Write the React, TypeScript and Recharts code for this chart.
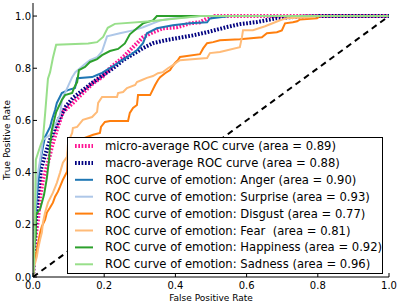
import React from 'react';
import { LineChart, Line, XAxis, YAxis, Legend } from 'recharts';

// ---- data ----
const xTicks = [0, 0.2, 0.4, 0.6, 0.8, 1.0];
const yTicks = [0, 0.2, 0.4, 0.6, 0.8, 1.0];

const microFpr = [0, 0.003, 0.008, 0.014, 0.02, 0.028, 0.042, 0.053, 0.067, 0.084, 0.112, 0.14, 0.169, 0.194, 0.216, 0.253, 0.281, 0.309, 0.337, 0.365, 0.404, 0.441, 0.469, 0.489, 0.511, 1];
const microTpr = [0, 0.087, 0.163, 0.22, 0.308, 0.373, 0.438, 0.499, 0.564, 0.632, 0.667, 0.705, 0.743, 0.766, 0.8, 0.842, 0.881, 0.919, 0.938, 0.953, 0.957, 0.972, 0.976, 0.991, 1.0, 1];

const macroFpr = [0, 0.003, 0.006, 0.011, 0.017, 0.022, 0.034, 0.048, 0.062, 0.076, 0.093, 0.112, 0.14, 0.169, 0.197, 0.225, 0.253, 0.281, 0.309, 0.337, 0.371, 0.404, 0.449, 0.489, 0.545, 0.581, 0.629, 0.685, 0.73, 0.806, 1];
const macroTpr = [0, 0.106, 0.182, 0.278, 0.354, 0.411, 0.468, 0.526, 0.571, 0.613, 0.655, 0.686, 0.716, 0.747, 0.774, 0.8, 0.831, 0.854, 0.877, 0.896, 0.907, 0.915, 0.926, 0.938, 0.958, 0.969, 0.977, 0.992, 0.996, 1.0, 1];

const angerFpr = [0, 0.003, 0.006, 0.011, 0.02, 0.028, 0.034, 0.048, 0.053, 0.062, 0.067, 0.081, 0.098, 0.118, 0.124, 0.166, 0.18, 0.194, 0.211, 0.225, 0.239, 0.264, 0.292, 0.309, 0.32, 0.348, 0.393, 0.441, 0.489, 0.497, 0.525, 0.553, 1];
const angerTpr = [0, 0.144, 0.22, 0.308, 0.438, 0.499, 0.537, 0.575, 0.602, 0.64, 0.667, 0.705, 0.716, 0.724, 0.762, 0.766, 0.774, 0.782, 0.797, 0.808, 0.82, 0.842, 0.869, 0.896, 0.934, 0.953, 0.965, 0.972, 0.976, 0.991, 0.995, 1.0, 1];

const surpriseFpr = [0, 0.003, 0.006, 0.011, 0.02, 0.028, 0.048, 0.062, 0.076, 0.081, 0.096, 0.11, 0.119, 0.132, 0.146, 0.16, 0.18, 0.194, 0.208, 0.244, 0.281, 0.309, 0.337, 0.357, 0.385, 0.47, 1];
const surpriseTpr = [0, 0.144, 0.247, 0.373, 0.449, 0.526, 0.545, 0.583, 0.621, 0.678, 0.724, 0.766, 0.785, 0.8, 0.816, 0.831, 0.842, 0.865, 0.922, 0.934, 0.945, 0.957, 0.972, 0.983, 0.99, 1.0, 1];

const disgustFpr = [0, 0.003, 0.006, 0.011, 0.02, 0.025, 0.034, 0.039, 0.048, 0.056, 0.062, 0.07, 0.076, 0.084, 0.096, 0.098, 0.104, 0.132, 0.169, 0.188, 0.191, 0.202, 0.216, 0.267, 0.272, 0.281, 0.292, 0.295, 0.329, 0.343, 0.351, 0.357, 0.371, 0.385, 0.39, 0.399, 0.407, 0.413, 0.469, 0.478, 0.489, 0.506, 0.525, 0.581, 0.643, 0.657, 0.685, 0.699, 0.708, 0.73, 0.742, 0.75, 0.798, 0.806, 1];
const disgustTpr = [0, 0.049, 0.075, 0.106, 0.171, 0.194, 0.22, 0.247, 0.266, 0.285, 0.308, 0.327, 0.346, 0.373, 0.404, 0.48, 0.507, 0.526, 0.545, 0.552, 0.575, 0.594, 0.598, 0.598, 0.629, 0.648, 0.659, 0.697, 0.697, 0.736, 0.755, 0.766, 0.781, 0.793, 0.804, 0.82, 0.831, 0.843, 0.854, 0.876, 0.896, 0.9, 0.907, 0.911, 0.919, 0.934, 0.938, 0.945, 0.972, 0.976, 0.98, 0.987, 0.991, 1.0, 1];

const fearFpr = [0, 0.003, 0.011, 0.014, 0.02, 0.025, 0.028, 0.034, 0.042, 0.056, 0.067, 0.076, 0.084, 0.096, 0.098, 0.104, 0.11, 0.112, 0.124, 0.14, 0.166, 0.18, 0.183, 0.194, 0.236, 0.239, 0.253, 0.264, 0.287, 0.292, 0.306, 0.32, 0.337, 0.351, 0.365, 0.379, 0.393, 0.404, 0.413, 0.489, 0.497, 0.525, 0.581, 0.587, 0.59, 0.618, 0.652, 0.694, 0.713, 0.792, 0.798, 1];
const fearTpr = [0, 0.038, 0.079, 0.106, 0.144, 0.171, 0.209, 0.247, 0.285, 0.323, 0.361, 0.4, 0.438, 0.461, 0.507, 0.533, 0.552, 0.571, 0.575, 0.602, 0.613, 0.633, 0.667, 0.69, 0.69, 0.705, 0.709, 0.724, 0.736, 0.747, 0.755, 0.763, 0.77, 0.781, 0.785, 0.8, 0.812, 0.823, 0.831, 0.839, 0.858, 0.862, 0.881, 0.919, 0.946, 0.946, 0.961, 0.984, 0.992, 0.996, 1.0, 1];

const happinessFpr = [0, 0.003, 0.008, 0.008, 0.02, 0.031, 0.039, 0.045, 0.048, 0.053, 0.065, 0.081, 0.09, 0.11, 0.115, 0.124, 0.129, 0.146, 0.16, 0.18, 0.194, 0.216, 0.239, 0.258, 0.272, 0.292, 0.309, 0.337, 0.348, 1];
const happinessTpr = [0, 0.106, 0.163, 0.24, 0.26, 0.315, 0.38, 0.45, 0.506, 0.564, 0.632, 0.678, 0.697, 0.705, 0.724, 0.747, 0.793, 0.805, 0.824, 0.835, 0.85, 0.866, 0.874, 0.895, 0.93, 0.953, 0.972, 0.983, 1.0, 1];

const sadnessFpr = [0, 0.003, 0.006, 0.008, 0.02, 0.028, 0.034, 0.039, 0.042, 0.048, 0.056, 0.065, 0.155, 0.18, 0.197, 0.21, 0.23, 0.33, 0.47, 1];
const sadnessTpr = [0, 0.046, 0.29, 0.45, 0.5, 0.53, 0.625, 0.71, 0.76, 0.785, 0.84, 0.89, 0.895, 0.9, 0.92, 0.955, 0.97, 0.98, 1.0, 1];

const chanceFpr = [0, 1];
const chanceTpr = [0, 1];

const seriesNames = [
  'micro-average ROC curve (area = 0.89)',
  'macro-average ROC curve (area = 0.88)',
  'ROC curve of emotion: Anger (area = 0.90)',
  'ROC curve of emotion: Surprise (area = 0.93)',
  'ROC curve of emotion: Disgust (area = 0.77)',
  'ROC curve of emotion: Fear  (area = 0.81)',
  'ROC curve of emotion: Happiness (area = 0.92)',
  'ROC curve of emotion: Sadness (area = 0.96)',
];
const seriesFpr = [microFpr, macroFpr, angerFpr, surpriseFpr, disgustFpr, fearFpr, happinessFpr, sadnessFpr];
const seriesTpr = [microTpr, macroTpr, angerTpr, surpriseTpr, disgustTpr, fearTpr, happinessTpr, sadnessTpr];

// ---- styles ----
const seriesStyle = [
  { color: '#ff1493', width: 4, dash: '1.7 1.6' },
  { color: '#000080', width: 4, dash: '1.7 1.6' },
  { color: '#1f77b4', width: 2, dash: undefined },
  { color: '#aec7e8', width: 2, dash: undefined },
  { color: '#ff7f0e', width: 2, dash: undefined },
  { color: '#ffbb78', width: 2, dash: undefined },
  { color: '#2ca02c', width: 2, dash: undefined },
  { color: '#98df8a', width: 2, dash: undefined },
];

const FONT = '"DejaVu Sans", "Bitstream Vera Sans", sans-serif';
const TICK_LEN = 4;

const zip = (xs: number[], ys: number[]) => xs.map((x, i) => ({ x, y: ys[i] }));
const fmt = (v: number) => v.toFixed(1);

const BottomTick = (p: any) => (
  <g>
    <line x1={p.x} y1={p.y} x2={p.x} y2={p.y - TICK_LEN} stroke="#000" strokeWidth={1} />
    <text x={p.x} y={p.y + 8} textAnchor="middle" dominantBaseline="central" fontSize={10} fontFamily={FONT} fill="#000">
      {fmt(p.payload.value)}
    </text>
  </g>
);
const LeftTick = (p: any) => (
  <g>
    <line x1={p.x} y1={p.y} x2={p.x + TICK_LEN} y2={p.y} stroke="#000" strokeWidth={1} />
    <text x={p.x - 2} y={p.y} textAnchor="end" dominantBaseline="central" fontSize={10} fontFamily={FONT} fill="#000">
      {fmt(p.payload.value)}
    </text>
  </g>
);
const TopTick = (p: any) => (
  <line x1={p.x} y1={p.y} x2={p.x} y2={p.y + TICK_LEN} stroke="#000" strokeWidth={1} />
);
const RightTick = (p: any) => (
  <line x1={p.x} y1={p.y} x2={p.x - TICK_LEN} y2={p.y} stroke="#000" strokeWidth={1} />
);

const LegendBox = () => {
  const W = 316;
  const H = 137;
  const first = 9;
  const pitch = 16.9;
  return (
    <svg width={W} height={H} style={{ display: 'block', overflow: 'visible' }}>
      <rect x={0.5} y={0.5} width={W - 1} height={H - 1} fill="#fff" stroke="#000" strokeWidth={1} />
      {seriesNames.map((name, i) => {
        const cy = first + i * pitch;
        const st = seriesStyle[i];
        return (
          <g key={name}>
            <line x1={8} x2={26} y1={cy} y2={cy} stroke={st.color} strokeWidth={st.width} strokeDasharray={st.dash} />
            <text x={38} y={cy} dominantBaseline="central" fontSize={11.6} fontFamily={FONT} fill="#000" style={{ whiteSpace: 'pre' }}>
              {name}
            </text>
          </g>
        );
      })}
    </svg>
  );
};

export default function App() {
  return (
    <div style={{ position: 'absolute', left: 0, top: 0, background: '#fff' }}>
      <LineChart width={398} height={305} margin={{ top: 3, right: 9, bottom: 0, left: 0 }}>
        <XAxis
          xAxisId="b"
          type="number"
          dataKey="x"
          domain={[0, 1]}
          ticks={xTicks}
          interval={0}
          height={28}
          tickSize={0}
          tickMargin={0}
          tickLine={false}
          axisLine={{ stroke: '#000', strokeWidth: 1 }}
          tick={<BottomTick />}
          allowDataOverflow
          label={{
            content: (props: any) => {
              const vb = props.viewBox;
              return (
                <text x={vb.x + vb.width / 2} y={298} textAnchor="middle" dominantBaseline="central" fontSize={9} fontFamily={FONT} fill="#000">
                  False Positive Rate
                </text>
              );
            },
          }}
        />
        <XAxis
          xAxisId="t"
          orientation="top"
          type="number"
          dataKey="x"
          domain={[0, 1]}
          ticks={xTicks}
          interval={0}
          height={0}
          tickSize={0}
          tickMargin={0}
          tickLine={false}
          axisLine={{ stroke: '#000', strokeWidth: 1 }}
          tick={<TopTick />}
        />
        <YAxis
          yAxisId="l"
          type="number"
          domain={[0, 1.05]}
          ticks={yTicks}
          interval={0}
          width={33}
          tickSize={0}
          tickMargin={0}
          tickLine={false}
          axisLine={{ stroke: '#000', strokeWidth: 1 }}
          tick={<LeftTick />}
          allowDataOverflow
          label={{
            content: (props: any) => {
              const vb = props.viewBox;
              const cx = 7;
              const cy = vb.y + vb.height / 2;
              return (
                <text x={cx} y={cy} transform={`rotate(-90, ${cx}, ${cy})`} textAnchor="middle" dominantBaseline="central" fontSize={9} fontFamily={FONT} fill="#000">
                  True Positive Rate
                </text>
              );
            },
          }}
        />
        <YAxis
          yAxisId="r"
          orientation="right"
          type="number"
          domain={[0, 1.05]}
          ticks={yTicks}
          interval={0}
          width={0}
          tickSize={0}
          tickMargin={0}
          tickLine={false}
          axisLine={{ stroke: '#000', strokeWidth: 1 }}
          tick={<RightTick />}
        />
        {seriesNames.map((name, i) => (
          <Line
            key={name}
            xAxisId="b"
            yAxisId="l"
            name={name}
            data={zip(seriesFpr[i], seriesTpr[i])}
            dataKey="y"
            type="linear"
            stroke={seriesStyle[i].color}
            strokeWidth={seriesStyle[i].width}
            strokeDasharray={seriesStyle[i].dash}
            dot={false}
            activeDot={false}
            isAnimationActive={false}
          />
        ))}
        <Line
          xAxisId="b"
          yAxisId="l"
          name="chance"
          data={zip(chanceFpr, chanceTpr)}
          dataKey="y"
          type="linear"
          stroke="#000"
          strokeWidth={2}
          strokeDasharray="6 4.5"
          dot={false}
          activeDot={false}
          legendType="none"
          isAnimationActive={false}
        />
        <Legend
          layout="horizontal"
          verticalAlign="middle"
          align="center"
          wrapperStyle={{ left: 67, top: 137, width: 316, height: 137, margin: 0, padding: 0 }}
          content={() => <LegendBox />}
        />
      </LineChart>
    </div>
  );
}
